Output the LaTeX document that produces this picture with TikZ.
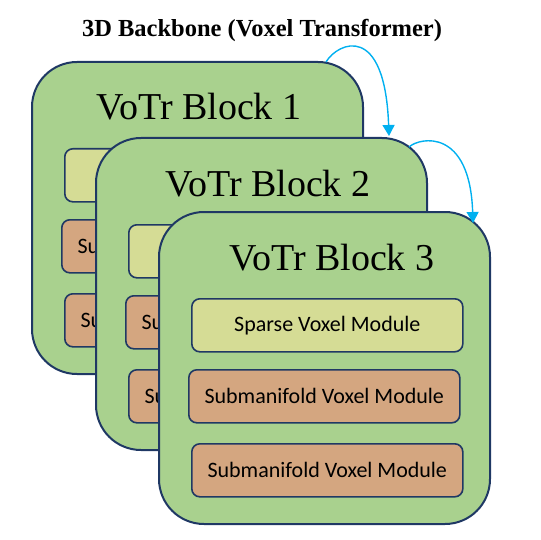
\documentclass[tikz,border=0pt]{standalone}
\usepackage{fontspec}
\setmainfont{Liberation Serif}
\newfontfamily\modfont{Carlito}
\usetikzlibrary{arrows.meta}
\definecolor{blkgreen}{HTML}{A9D18E}
\definecolor{blkline}{HTML}{1F3864}
\definecolor{sparsefill}{HTML}{D5DC95}
\definecolor{subfill}{HTML}{D4A680}
\definecolor{arrowblue}{HTML}{00B0F0}
\begin{document}
\begin{tikzpicture}[x=1pt,y=-1pt,
  blockbox/.style={draw=blkline, line width=2pt, fill=blkgreen, rounded corners=45pt,
    minimum width=331pt, minimum height=312pt, anchor=north west, inner sep=0pt},
  blocktitle/.style={font=\fontsize{38}{44}\selectfont, inner sep=0pt},
  modbox/.style={draw=blkline, line width=1.6pt, rounded corners=8pt,
    minimum width=271pt, minimum height=53pt, anchor=north west, inner sep=0pt,
    font=\modfont\fontsize{22}{26}\selectfont},
  sparsebox/.style={modbox, fill=sparsefill},
  subbox/.style={modbox, fill=subfill},
  conn/.style={draw=arrowblue, line width=1.4pt, -{Triangle[length=11pt,width=12pt]}},
  titletext/.style={font=\bfseries\fontsize{24.5}{28}\selectfont, inner sep=0pt}
]
\useasboundingbox (0,0) rectangle (540,540);
\node[titletext] (title) at (262,30) {3D Backbone (Voxel Transformer)};

% Block 1
\node[blockbox] (b1) at (31,61) {};
\node[blocktitle] (t1) at (199,107) {VoTr Block 1};
\node[sparsebox] (s1) at (64,148) {Sparse Voxel Module};
\node[subbox] (m1a) at (61,219) {Submanifold Voxel Module};
\node[subbox] (m1b) at (64,293) {Submanifold Voxel Module};

% Block 2
\node[blockbox] (b2) at (95,137) {};
\node[blocktitle] (t2) at (268,184) {VoTr Block 2};
\node[sparsebox] (s2) at (128,224) {Sparse Voxel Module};
\node[subbox] (m2a) at (125,295) {Submanifold Voxel Module};
\node[subbox] (m2b) at (128,369) {Submanifold Voxel Module};

% Block 3
\node[blockbox] (b3) at (158,211) {};
\node[blocktitle] (t3) at (332,258) {VoTr Block 3};
\node[sparsebox] (s3) at (191,298) {Sparse Voxel Module};
\node[subbox] (m3a) at (188,369) {Submanifold Voxel Module};
\node[subbox] (m3b) at (191,443) {Submanifold Voxel Module};

% Connectors
\coordinate (a1s) at (326,62);
\coordinate (a1e) at (389,136);
\coordinate (a2s) at (409,147);
\coordinate (a2e) at (473,223);
\draw[conn] (a1s) .. controls (338,42) and (385,22) .. (a1e);
\draw[conn] (a2s) .. controls (420,137) and (470,128) .. (a2e);
\end{tikzpicture}
\end{document}
